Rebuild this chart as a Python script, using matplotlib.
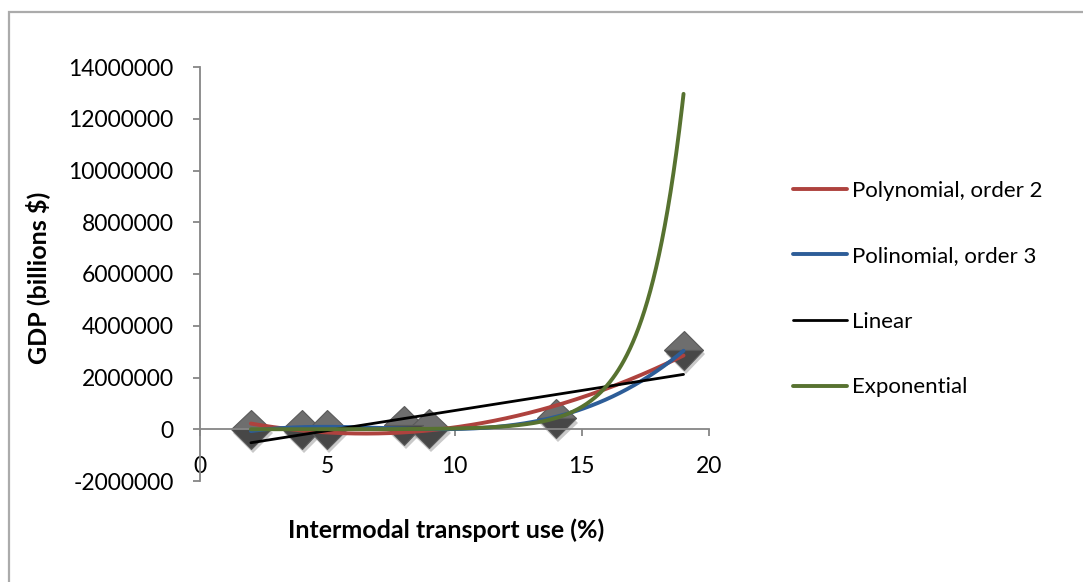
import matplotlib
matplotlib.use('Agg')
import matplotlib.pyplot as plt
import matplotlib.patheffects as pe
from matplotlib.patches import Rectangle
import numpy as np

plt.rcParams['font.family'] = ['Lato', 'DejaVu Sans']

# Datos
transport_use = np.array([2, 4, 5, 8, 9, 14, 19])
gdp = np.array([8, 300, 3000, 150000, 30000, 420000, 3050000])

x_ticks = [0, 5, 10, 15, 20]
y_ticks = [-2000000, 0, 2000000, 4000000, 6000000, 8000000, 10000000, 12000000, 14000000]

trend_names = ['Polynomial, order 2', 'Polinomial, order 3', 'Linear', 'Exponential']
trend_colors = ['#AE423E', '#2D5D98', '#000000', '#577230']
trend_widths = [2.8, 2.8, 2.0, 2.8]

# Lineas de tendencia (como Excel): ajuste por minimos cuadrados
xs = np.linspace(transport_use.min(), transport_use.max(), 300)
p2 = np.polyfit(transport_use, gdp, 2)
p3 = np.polyfit(transport_use, gdp, 3)
p1 = np.polyfit(transport_use, gdp, 1)
pe_exp = np.polyfit(transport_use, np.log(gdp), 1)
trends = [np.polyval(p2, xs), np.polyval(p3, xs), np.polyval(p1, xs),
          np.exp(np.polyval(pe_exp, xs))]

fig = plt.figure(figsize=(10.83, 5.82), dpi=100)
ax = fig.add_axes([200/1083, 1-481/582, 509/1083, 414/582])

# Marcadores tipo diamante
ax.plot(transport_use, gdp, linestyle='none', marker='D', markersize=20,
        fillstyle='top', markerfacecolor='#6e6e6e', markerfacecoloralt='#474747',
        markeredgecolor='#5a5a5a', markeredgewidth=0.8, zorder=2,
        path_effects=[pe.SimplePatchShadow(offset=(1.5, -3), shadow_rgbFace='#888888', alpha=0.45),
                      pe.Normal()])

for name, col, lw, ys in zip(trend_names, trend_colors, trend_widths, trends):
    ax.plot(xs, ys, color=col, lw=lw, label=name, solid_capstyle='round', zorder=3)

ax.set_xlim(0, 20)
ax.set_ylim(-2000000, 14000000)
ax.set_xticks(x_ticks)
ax.set_yticks(y_ticks)
ax.set_xticklabels([str(v) for v in x_ticks])
ax.set_yticklabels([str(v) for v in y_ticks])

for s in ['top', 'right']:
    ax.spines[s].set_visible(False)
ax.spines['bottom'].set_position(('data', 0))
ax.spines['left'].set_color('#868686')
ax.spines['bottom'].set_color('#868686')
ax.spines['left'].set_linewidth(1.3)
ax.spines['bottom'].set_linewidth(1.3)
ax.tick_params(axis='both', direction='out', length=5, width=1.3, color='#868686',
               labelsize=16.5, labelcolor='black', pad=14)

leg = ax.legend(loc='center left', bbox_to_anchor=(793/1083, 1-289/582),
                bbox_transform=fig.transFigure, frameon=False, fontsize=16,
                handlelength=2.45, handletextpad=0.2, labelspacing=2.05,
                borderpad=0, borderaxespad=0)

fig.text(38/1083, 1-278/582, 'GDP (billions $)', rotation=90, ha='center', va='center',
         fontsize=18, fontweight='bold')
fig.text(446/1083, 1-530/582, 'Intermodal transport use (%)', ha='center', va='center',
         fontsize=18, fontweight='bold')

# Borde del area del grafico
fig.patches.append(Rectangle((9/1083, -0.1), 1.2, 1-12/582+0.1, transform=fig.transFigure,
                             fill=False, edgecolor='#ababab', lw=1.6, figure=fig))

fig.savefig('out.png', dpi=100)
